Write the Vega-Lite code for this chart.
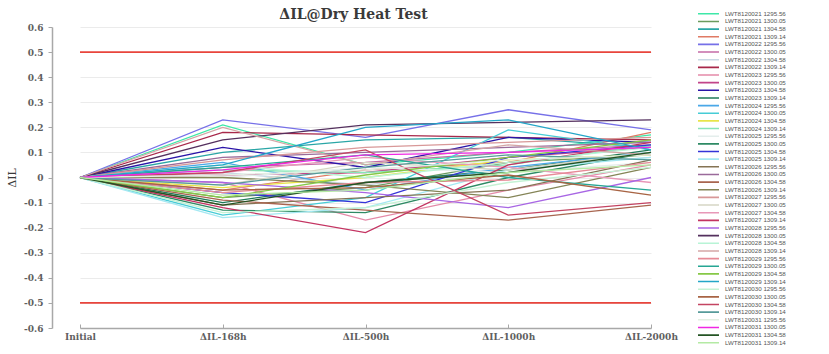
{
  "$schema": "https://vega.github.io/schema/vega-lite/v6.json",
  "autosize": "none",
  "padding": {"left": 52, "top": 27, "right": 174, "bottom": 26},
  "width": 603,
  "height": 301,
  "background": "white",
  "title": {"text": "ΔIL@Dry Heat Test", "font": "DejaVu Serif", "fontSize": 14, "fontWeight": "bold", "color": "#3a3a3a", "anchor": "middle", "frame": "group", "offset": 5, "dy": 16.5},
  "config": {
    "view": {"stroke": null},
    "axis": {"labelFont": "DejaVu Serif", "labelFontWeight": "bold", "labelColor": "#606060", "labelFontSize": 9, "titleFont": "DejaVu Serif", "titleColor": "#3a3a3a", "domainColor": "#a8a8a8", "domainWidth": 1.5, "tickColor": "#a8a8a8"}
  },
  "datasets": {
    "limits": [
      {"g": "upper", "t": "Initial", "v": 0.5},
      {"g": "upper", "t": "ΔIL-2000h", "v": 0.5},
      {"g": "lower", "t": "Initial", "v": -0.5},
      {"g": "lower", "t": "ΔIL-2000h", "v": -0.5}
    ],
    "series": [
      {"s":"LWT8120021 1295.56","t":"Initial","v":0},{"s":"LWT8120021 1295.56","t":"ΔIL-168h","v":0.21},{"s":"LWT8120021 1295.56","t":"ΔIL-500h","v":0.05},{"s":"LWT8120021 1295.56","t":"ΔIL-1000h","v":0.10},{"s":"LWT8120021 1295.56","t":"ΔIL-2000h","v":0.17},
      {"s":"LWT8120021 1300.05","t":"Initial","v":0},{"s":"LWT8120021 1300.05","t":"ΔIL-168h","v":-0.08},{"s":"LWT8120021 1300.05","t":"ΔIL-500h","v":-0.04},{"s":"LWT8120021 1300.05","t":"ΔIL-1000h","v":0.06},{"s":"LWT8120021 1300.05","t":"ΔIL-2000h","v":0.09},
      {"s":"LWT8120021 1304.58","t":"Initial","v":0},{"s":"LWT8120021 1304.58","t":"ΔIL-168h","v":0.10},{"s":"LWT8120021 1304.58","t":"ΔIL-500h","v":0.15},{"s":"LWT8120021 1304.58","t":"ΔIL-1000h","v":0.16},{"s":"LWT8120021 1304.58","t":"ΔIL-2000h","v":0.12},
      {"s":"LWT8120021 1309.14","t":"Initial","v":0},{"s":"LWT8120021 1309.14","t":"ΔIL-168h","v":-0.05},{"s":"LWT8120021 1309.14","t":"ΔIL-500h","v":0.03},{"s":"LWT8120021 1309.14","t":"ΔIL-1000h","v":0.06},{"s":"LWT8120021 1309.14","t":"ΔIL-2000h","v":0.18},
      {"s":"LWT8120022 1295.56","t":"Initial","v":0},{"s":"LWT8120022 1295.56","t":"ΔIL-168h","v":0.23},{"s":"LWT8120022 1295.56","t":"ΔIL-500h","v":0.16},{"s":"LWT8120022 1295.56","t":"ΔIL-1000h","v":0.27},{"s":"LWT8120022 1295.56","t":"ΔIL-2000h","v":0.19},
      {"s":"LWT8120022 1300.05","t":"Initial","v":0},{"s":"LWT8120022 1300.05","t":"ΔIL-168h","v":0.04},{"s":"LWT8120022 1300.05","t":"ΔIL-500h","v":0.06},{"s":"LWT8120022 1300.05","t":"ΔIL-1000h","v":0.10},{"s":"LWT8120022 1300.05","t":"ΔIL-2000h","v":0.13},
      {"s":"LWT8120022 1304.58","t":"Initial","v":0},{"s":"LWT8120022 1304.58","t":"ΔIL-168h","v":0.02},{"s":"LWT8120022 1304.58","t":"ΔIL-500h","v":-0.03},{"s":"LWT8120022 1304.58","t":"ΔIL-1000h","v":0.04},{"s":"LWT8120022 1304.58","t":"ΔIL-2000h","v":0.08},
      {"s":"LWT8120022 1309.14","t":"Initial","v":0},{"s":"LWT8120022 1309.14","t":"ΔIL-168h","v":0.18},{"s":"LWT8120022 1309.14","t":"ΔIL-500h","v":0.17},{"s":"LWT8120022 1309.14","t":"ΔIL-1000h","v":0.16},{"s":"LWT8120022 1309.14","t":"ΔIL-2000h","v":0.15},
      {"s":"LWT8120023 1295.56","t":"Initial","v":0},{"s":"LWT8120023 1295.56","t":"ΔIL-168h","v":-0.02},{"s":"LWT8120023 1295.56","t":"ΔIL-500h","v":-0.17},{"s":"LWT8120023 1295.56","t":"ΔIL-1000h","v":-0.05},{"s":"LWT8120023 1295.56","t":"ΔIL-2000h","v":0.05},
      {"s":"LWT8120023 1300.05","t":"Initial","v":0},{"s":"LWT8120023 1300.05","t":"ΔIL-168h","v":0.01},{"s":"LWT8120023 1300.05","t":"ΔIL-500h","v":0.02},{"s":"LWT8120023 1300.05","t":"ΔIL-1000h","v":0.08},{"s":"LWT8120023 1300.05","t":"ΔIL-2000h","v":0.12},
      {"s":"LWT8120023 1304.58","t":"Initial","v":0},{"s":"LWT8120023 1304.58","t":"ΔIL-168h","v":0.12},{"s":"LWT8120023 1304.58","t":"ΔIL-500h","v":0.04},{"s":"LWT8120023 1304.58","t":"ΔIL-1000h","v":0.16},{"s":"LWT8120023 1304.58","t":"ΔIL-2000h","v":0.14},
      {"s":"LWT8120023 1309.14","t":"Initial","v":0},{"s":"LWT8120023 1309.14","t":"ΔIL-168h","v":-0.10},{"s":"LWT8120023 1309.14","t":"ΔIL-500h","v":-0.02},{"s":"LWT8120023 1309.14","t":"ΔIL-1000h","v":0.03},{"s":"LWT8120023 1309.14","t":"ΔIL-2000h","v":0.11},
      {"s":"LWT8120024 1295.56","t":"Initial","v":0},{"s":"LWT8120024 1295.56","t":"ΔIL-168h","v":0.06},{"s":"LWT8120024 1295.56","t":"ΔIL-500h","v":-0.05},{"s":"LWT8120024 1295.56","t":"ΔIL-1000h","v":0.04},{"s":"LWT8120024 1295.56","t":"ΔIL-2000h","v":0.10},
      {"s":"LWT8120024 1300.05","t":"Initial","v":0},{"s":"LWT8120024 1300.05","t":"ΔIL-168h","v":-0.15},{"s":"LWT8120024 1300.05","t":"ΔIL-500h","v":-0.08},{"s":"LWT8120024 1300.05","t":"ΔIL-1000h","v":0.19},{"s":"LWT8120024 1300.05","t":"ΔIL-2000h","v":0.11},
      {"s":"LWT8120024 1304.58","t":"Initial","v":0},{"s":"LWT8120024 1304.58","t":"ΔIL-168h","v":-0.04},{"s":"LWT8120024 1304.58","t":"ΔIL-500h","v":0.0},{"s":"LWT8120024 1304.58","t":"ΔIL-1000h","v":0.07},{"s":"LWT8120024 1304.58","t":"ΔIL-2000h","v":0.09},
      {"s":"LWT8120024 1309.14","t":"Initial","v":0},{"s":"LWT8120024 1309.14","t":"ΔIL-168h","v":0.03},{"s":"LWT8120024 1309.14","t":"ΔIL-500h","v":0.02},{"s":"LWT8120024 1309.14","t":"ΔIL-1000h","v":0.05},{"s":"LWT8120024 1309.14","t":"ΔIL-2000h","v":0.13},
      {"s":"LWT8120025 1295.56","t":"Initial","v":0},{"s":"LWT8120025 1295.56","t":"ΔIL-168h","v":0.0},{"s":"LWT8120025 1295.56","t":"ΔIL-500h","v":0.04},{"s":"LWT8120025 1295.56","t":"ΔIL-1000h","v":0.02},{"s":"LWT8120025 1295.56","t":"ΔIL-2000h","v":0.06},
      {"s":"LWT8120025 1300.05","t":"Initial","v":0},{"s":"LWT8120025 1300.05","t":"ΔIL-168h","v":-0.13},{"s":"LWT8120025 1300.05","t":"ΔIL-500h","v":-0.14},{"s":"LWT8120025 1300.05","t":"ΔIL-1000h","v":0.0},{"s":"LWT8120025 1300.05","t":"ΔIL-2000h","v":0.10},
      {"s":"LWT8120025 1304.58","t":"Initial","v":0},{"s":"LWT8120025 1304.58","t":"ΔIL-168h","v":-0.06},{"s":"LWT8120025 1304.58","t":"ΔIL-500h","v":-0.10},{"s":"LWT8120025 1304.58","t":"ΔIL-1000h","v":0.08},{"s":"LWT8120025 1304.58","t":"ΔIL-2000h","v":0.13},
      {"s":"LWT8120025 1309.14","t":"Initial","v":0},{"s":"LWT8120025 1309.14","t":"ΔIL-168h","v":-0.16},{"s":"LWT8120025 1309.14","t":"ΔIL-500h","v":-0.12},{"s":"LWT8120025 1309.14","t":"ΔIL-1000h","v":0.03},{"s":"LWT8120025 1309.14","t":"ΔIL-2000h","v":0.08},
      {"s":"LWT8120026 1295.56","t":"Initial","v":0},{"s":"LWT8120026 1295.56","t":"ΔIL-168h","v":-0.11},{"s":"LWT8120026 1295.56","t":"ΔIL-500h","v":-0.08},{"s":"LWT8120026 1295.56","t":"ΔIL-1000h","v":-0.05},{"s":"LWT8120026 1295.56","t":"ΔIL-2000h","v":0.07},
      {"s":"LWT8120026 1300.05","t":"Initial","v":0},{"s":"LWT8120026 1300.05","t":"ΔIL-168h","v":0.08},{"s":"LWT8120026 1300.05","t":"ΔIL-500h","v":0.10},{"s":"LWT8120026 1300.05","t":"ΔIL-1000h","v":0.12},{"s":"LWT8120026 1300.05","t":"ΔIL-2000h","v":0.14},
      {"s":"LWT8120026 1304.58","t":"Initial","v":0},{"s":"LWT8120026 1304.58","t":"ΔIL-168h","v":-0.09},{"s":"LWT8120026 1304.58","t":"ΔIL-500h","v":-0.13},{"s":"LWT8120026 1304.58","t":"ΔIL-1000h","v":-0.17},{"s":"LWT8120026 1304.58","t":"ΔIL-2000h","v":-0.11},
      {"s":"LWT8120026 1309.14","t":"Initial","v":0},{"s":"LWT8120026 1309.14","t":"ΔIL-168h","v":0.0},{"s":"LWT8120026 1309.14","t":"ΔIL-500h","v":-0.03},{"s":"LWT8120026 1309.14","t":"ΔIL-1000h","v":-0.08},{"s":"LWT8120026 1309.14","t":"ΔIL-2000h","v":0.04},
      {"s":"LWT8120027 1295.56","t":"Initial","v":0},{"s":"LWT8120027 1295.56","t":"ΔIL-168h","v":0.07},{"s":"LWT8120027 1295.56","t":"ΔIL-500h","v":0.12},{"s":"LWT8120027 1295.56","t":"ΔIL-1000h","v":0.14},{"s":"LWT8120027 1295.56","t":"ΔIL-2000h","v":0.16},
      {"s":"LWT8120027 1300.05","t":"Initial","v":0},{"s":"LWT8120027 1300.05","t":"ΔIL-168h","v":-0.03},{"s":"LWT8120027 1300.05","t":"ΔIL-500h","v":0.06},{"s":"LWT8120027 1300.05","t":"ΔIL-1000h","v":0.03},{"s":"LWT8120027 1300.05","t":"ΔIL-2000h","v":0.10},
      {"s":"LWT8120027 1304.58","t":"Initial","v":0},{"s":"LWT8120027 1304.58","t":"ΔIL-168h","v":0.02},{"s":"LWT8120027 1304.58","t":"ΔIL-500h","v":0.08},{"s":"LWT8120027 1304.58","t":"ΔIL-1000h","v":0.04},{"s":"LWT8120027 1304.58","t":"ΔIL-2000h","v":-0.02},
      {"s":"LWT8120027 1309.14","t":"Initial","v":0},{"s":"LWT8120027 1309.14","t":"ΔIL-168h","v":-0.12},{"s":"LWT8120027 1309.14","t":"ΔIL-500h","v":-0.22},{"s":"LWT8120027 1309.14","t":"ΔIL-1000h","v":0.05},{"s":"LWT8120027 1309.14","t":"ΔIL-2000h","v":0.14},
      {"s":"LWT8120028 1295.56","t":"Initial","v":0},{"s":"LWT8120028 1295.56","t":"ΔIL-168h","v":-0.02},{"s":"LWT8120028 1295.56","t":"ΔIL-500h","v":-0.06},{"s":"LWT8120028 1295.56","t":"ΔIL-1000h","v":-0.12},{"s":"LWT8120028 1295.56","t":"ΔIL-2000h","v":0.0},
      {"s":"LWT8120028 1300.05","t":"Initial","v":0},{"s":"LWT8120028 1300.05","t":"ΔIL-168h","v":0.15},{"s":"LWT8120028 1300.05","t":"ΔIL-500h","v":0.21},{"s":"LWT8120028 1300.05","t":"ΔIL-1000h","v":0.22},{"s":"LWT8120028 1300.05","t":"ΔIL-2000h","v":0.23},
      {"s":"LWT8120028 1304.58","t":"Initial","v":0},{"s":"LWT8120028 1304.58","t":"ΔIL-168h","v":0.05},{"s":"LWT8120028 1304.58","t":"ΔIL-500h","v":0.0},{"s":"LWT8120028 1304.58","t":"ΔIL-1000h","v":0.06},{"s":"LWT8120028 1304.58","t":"ΔIL-2000h","v":0.12},
      {"s":"LWT8120028 1309.14","t":"Initial","v":0},{"s":"LWT8120028 1309.14","t":"ΔIL-168h","v":0.20},{"s":"LWT8120028 1309.14","t":"ΔIL-500h","v":0.05},{"s":"LWT8120028 1309.14","t":"ΔIL-1000h","v":0.13},{"s":"LWT8120028 1309.14","t":"ΔIL-2000h","v":0.09},
      {"s":"LWT8120029 1295.56","t":"Initial","v":0},{"s":"LWT8120029 1295.56","t":"ΔIL-168h","v":-0.06},{"s":"LWT8120029 1295.56","t":"ΔIL-500h","v":-0.02},{"s":"LWT8120029 1295.56","t":"ΔIL-1000h","v":-0.01},{"s":"LWT8120029 1295.56","t":"ΔIL-2000h","v":0.06},
      {"s":"LWT8120029 1300.05","t":"Initial","v":0},{"s":"LWT8120029 1300.05","t":"ΔIL-168h","v":0.04},{"s":"LWT8120029 1300.05","t":"ΔIL-500h","v":0.09},{"s":"LWT8120029 1300.05","t":"ΔIL-1000h","v":0.0},{"s":"LWT8120029 1300.05","t":"ΔIL-2000h","v":-0.05},
      {"s":"LWT8120029 1304.58","t":"Initial","v":0},{"s":"LWT8120029 1304.58","t":"ΔIL-168h","v":-0.08},{"s":"LWT8120029 1304.58","t":"ΔIL-500h","v":0.01},{"s":"LWT8120029 1304.58","t":"ΔIL-1000h","v":0.08},{"s":"LWT8120029 1304.58","t":"ΔIL-2000h","v":0.15},
      {"s":"LWT8120029 1309.14","t":"Initial","v":0},{"s":"LWT8120029 1309.14","t":"ΔIL-168h","v":0.05},{"s":"LWT8120029 1309.14","t":"ΔIL-500h","v":0.20},{"s":"LWT8120029 1309.14","t":"ΔIL-1000h","v":0.23},{"s":"LWT8120029 1309.14","t":"ΔIL-2000h","v":0.11},
      {"s":"LWT8120030 1295.56","t":"Initial","v":0},{"s":"LWT8120030 1295.56","t":"ΔIL-168h","v":-0.14},{"s":"LWT8120030 1295.56","t":"ΔIL-500h","v":-0.12},{"s":"LWT8120030 1295.56","t":"ΔIL-1000h","v":-0.02},{"s":"LWT8120030 1295.56","t":"ΔIL-2000h","v":0.04},
      {"s":"LWT8120030 1300.05","t":"Initial","v":0},{"s":"LWT8120030 1300.05","t":"ΔIL-168h","v":-0.05},{"s":"LWT8120030 1300.05","t":"ΔIL-500h","v":-0.04},{"s":"LWT8120030 1300.05","t":"ΔIL-1000h","v":0.01},{"s":"LWT8120030 1300.05","t":"ΔIL-2000h","v":-0.07},
      {"s":"LWT8120030 1304.58","t":"Initial","v":0},{"s":"LWT8120030 1304.58","t":"ΔIL-168h","v":0.02},{"s":"LWT8120030 1304.58","t":"ΔIL-500h","v":0.11},{"s":"LWT8120030 1304.58","t":"ΔIL-1000h","v":-0.15},{"s":"LWT8120030 1304.58","t":"ΔIL-2000h","v":-0.10},
      {"s":"LWT8120030 1309.14","t":"Initial","v":0},{"s":"LWT8120030 1309.14","t":"ΔIL-168h","v":-0.03},{"s":"LWT8120030 1309.14","t":"ΔIL-500h","v":0.04},{"s":"LWT8120030 1309.14","t":"ΔIL-1000h","v":0.09},{"s":"LWT8120030 1309.14","t":"ΔIL-2000h","v":0.07},
      {"s":"LWT8120031 1295.56","t":"Initial","v":0},{"s":"LWT8120031 1295.56","t":"ΔIL-168h","v":0.01},{"s":"LWT8120031 1295.56","t":"ΔIL-500h","v":0.03},{"s":"LWT8120031 1295.56","t":"ΔIL-1000h","v":0.07},{"s":"LWT8120031 1295.56","t":"ΔIL-2000h","v":0.09},
      {"s":"LWT8120031 1300.05","t":"Initial","v":0},{"s":"LWT8120031 1300.05","t":"ΔIL-168h","v":0.03},{"s":"LWT8120031 1300.05","t":"ΔIL-500h","v":0.09},{"s":"LWT8120031 1300.05","t":"ΔIL-1000h","v":0.10},{"s":"LWT8120031 1300.05","t":"ΔIL-2000h","v":0.12},
      {"s":"LWT8120031 1304.58","t":"Initial","v":0},{"s":"LWT8120031 1304.58","t":"ΔIL-168h","v":-0.11},{"s":"LWT8120031 1304.58","t":"ΔIL-500h","v":-0.02},{"s":"LWT8120031 1304.58","t":"ΔIL-1000h","v":0.02},{"s":"LWT8120031 1304.58","t":"ΔIL-2000h","v":0.10},
      {"s":"LWT8120031 1309.14","t":"Initial","v":0},{"s":"LWT8120031 1309.14","t":"ΔIL-168h","v":-0.07},{"s":"LWT8120031 1309.14","t":"ΔIL-500h","v":-0.05},{"s":"LWT8120031 1309.14","t":"ΔIL-1000h","v":0.02},{"s":"LWT8120031 1309.14","t":"ΔIL-2000h","v":0.05}
    ]
  },
  "encoding": {
    "x": {"field": "t", "type": "ordinal", "sort": ["Initial", "ΔIL-168h", "ΔIL-500h", "ΔIL-1000h", "ΔIL-2000h"],
      "scale": {"type": "point", "range": [28, 599], "padding": 0},
      "axis": {"title": null, "labelAngle": 0, "labelPadding": 8, "tickSize": -4, "grid": false}},
    "y": {"field": "v", "type": "quantitative",
      "scale": {"domain": [-0.6, 0.6], "nice": false, "zero": false},
      "axis": {"title": "ΔIL", "titleFontSize": 11, "titleFontWeight": "normal", "titlePadding": 6,
        "values": [-0.6, -0.5, -0.4, -0.3, -0.2, -0.1, 0, 0.1, 0.2, 0.3, 0.4, 0.5, 0.6],
        "labelExpr": "replace(format(datum.value, '.1~f'), '\u2212', '-')",
        "tickSize": 4, "labelPadding": 5, "grid": true, "gridColor": "#ebebeb", "gridWidth": 1}}
  },
  "layer": [
    {
      "data": {"name": "limits"},
      "mark": {"type": "line", "color": "#e8453c", "strokeWidth": 1.6},
      "encoding": {"detail": {"field": "g"}}
    },
    {
      "data": {"name": "series"},
      "mark": {"type": "line", "strokeWidth": 1.3},
      "encoding": {
        "color": {"field": "s", "type": "nominal",
          "scale": {"range": ["#3ee8a8","#6b9b5e","#2aa6a6","#e07a64","#7670e8","#c46aa6","#c8d8e4","#a8284a","#e48aa8","#c2448a","#2a14a8","#1f7a58","#4aa8e8","#46ccd6","#e8e44a","#88e4b8","#e4eeec","#2e8a64","#3434d8","#a4e8f2","#857454","#9a6a9a","#a8654f","#848456","#d89898","#d6d6c4","#e898b8","#c43462","#a866e4","#54305e","#b8f4d6","#d4a6a6","#e68a96","#26a694","#86c846","#24a6c8","#c4f2d4","#a86444","#c44462","#569a9a","#e2eee2","#f028e4","#245424","#b4eaa4"]},
          "legend": {"title": null, "orient": "none", "legendX": 645, "legendY": -16.5,
            "symbolType": "stroke", "symbolSize": 441, "symbolStrokeWidth": 1.6, "symbolLimit": 0,
            "clipHeight": 6.6, "rowPadding": 0.65, "labelFont": "Liberation Sans", "labelFontSize": 6.2,
            "labelColor": "#555555", "labelOffset": 5, "labelLimit": 200}}
      }
    }
  ]
}
